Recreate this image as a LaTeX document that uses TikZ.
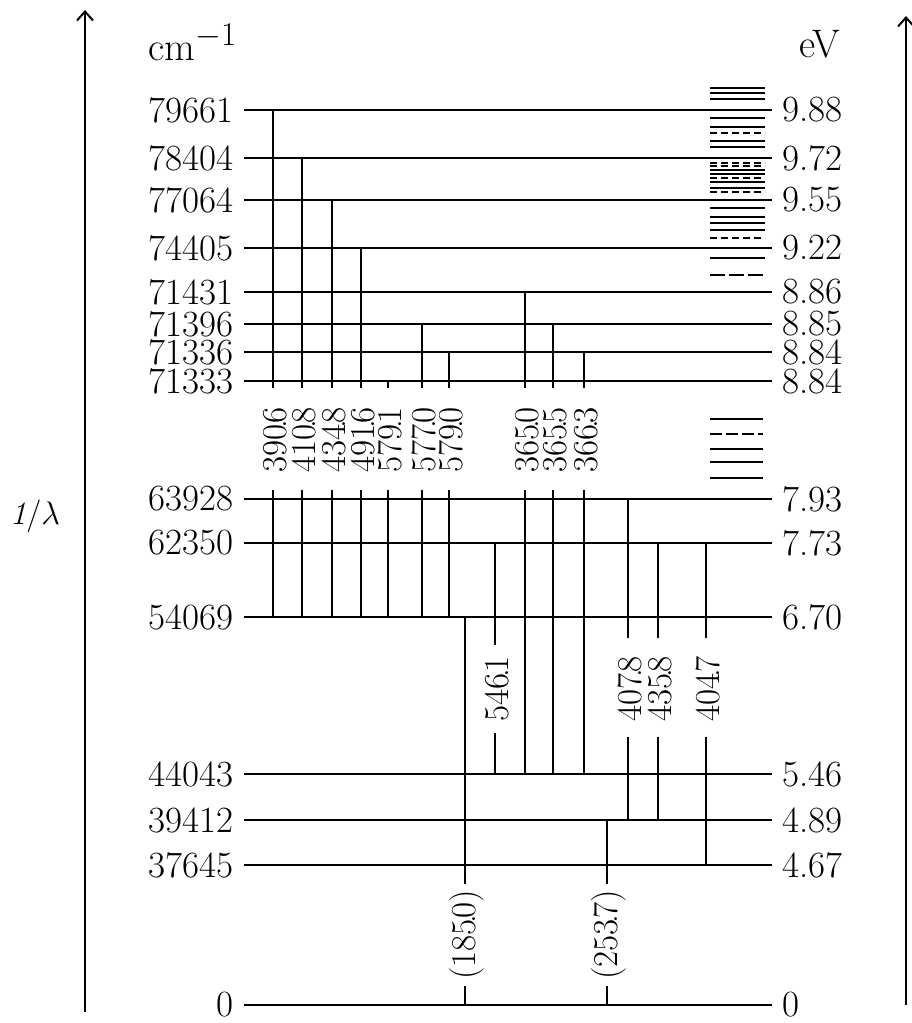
\documentclass[tikz,border=0pt]{standalone}
\usetikzlibrary{arrows.meta}
\newcommand\wdot{\hbox to 0pt{\hss.\hss}}
\begin{document}
\begin{tikzpicture}[x=1pt,y=-1pt,
  level/.style={line width=2.8pt},
  trans/.style={line width=2pt},
  ryd/.style={line width=1.3pt},
  axisline/.style={line width=2pt,-{Straight Barb[length=9pt,width=16pt,line width=2pt]}},
  lab/.style={font=\fontsize{37}{40}\selectfont, inner sep=0pt},
  unitlab/.style={font=\fontsize{24.88}{28}\selectfont, scale=1.6, inner sep=0pt},
  wl/.style={font=\fontsize{35}{38}\selectfont, rotate=90, inner sep=0pt},
]
\useasboundingbox (0,0) rectangle (911,1023);

% axes
\coordinate (axLb) at (85,1012);
\coordinate (axLt) at (85,10);
\coordinate (axRb) at (906,1005);
\coordinate (axRt) at (906,16);
\draw[axisline] (axLb) -- (axLt);
\draw[axisline] (axRb) -- (axRt);

\node[unitlab, anchor=base west] (ucm) at (148,60) {cm$^{-1}$};
\node[unitlab, anchor=base east] (uev) at (840,57) {eV};
\node[unitlab, scale=0.82, anchor=base] (inv) at (35,524) {\textit{1}/$\lambda$};

% levels
\foreach \y/\l/\r in {110/79661/9.88, 158/78404/9.72, 200/77064/9.55, 248/74405/9.22,
    292/71431/8.86, 324/71396/8.85, 352/71336/8.84, 381/71333/8.84,
    499/63928/7.93, 543/62350/7.73, 617/54069/6.70,
    774/44043/5.46, 820/39412/4.89, 865/37645/4.67, 1005/0/0} {
  \coordinate (lvA\l) at (244,\y);
  \coordinate (lvB\l) at (772,\y);
  \draw[level] (lvA\l) -- (lvB\l);
  \node[lab, anchor=east] (cm\l) at (234,\y) {\l};
  \node[lab, anchor=west] (ev\l) at (782,\y) {\r};
}

% Rydberg series (top)
\foreach \y in {88,93,99,118,127,141,147,170,174,182,188,208,217,223,230,258} {
  \draw[ryd] (710,\y) -- (765,\y);
}
\foreach \y in {133,163,166,178,192,238} {
  \draw[ryd, dash pattern=on 7pt off 4pt] (710,\y) -- (765,\y);
}
\draw[ryd, dash pattern=on 15pt off 4pt] (710,275) -- (765,275);
% Rydberg series (lower)
\foreach \y in {419,449,462,478} {
  \draw[ryd] (710,\y) -- (763,\y);
}
\draw[ryd, dash pattern=on 12pt off 4pt] (710,434) -- (763,434);

% transitions with label gaps: x / top / bottom / gap-top / gap-bottom / label-y / label / name
\foreach \x/\t/\b/\ga/\gb/\ly/\txt/\nm in {
   273/110/617/388/490/440/{390\wdot6}/a,
   302/158/617/388/490/440/{410\wdot8}/b,
   332/200/617/388/490/440/{434\wdot8}/c,
   361/248/617/388/490/440/{491\wdot6}/d,
   388/381/617/388/490/440/{579\wdot1}/e,
   422/324/617/388/490/440/{577\wdot0}/f,
   449/352/617/388/490/440/{579\wdot0}/g,
   525/292/774/388/490/440/{365\wdot0}/h,
   553/324/774/388/490/440/{365\wdot5}/i,
   584/352/774/388/490/440/{366\wdot3}/j,
   495/543/774/645/733/689/{546\wdot1}/n,
   628/499/820/638/737/689/{407\wdot8}/k,
   658/543/820/638/737/689/{435\wdot8}/l,
   706/543/865/638/737/689/{404\wdot7}/m,
   465/617/1005/884/986/935/{(185\wdot0)}/o,
   607/820/1005/884/986/935/{(253\wdot7)}/p} {
  \coordinate (tT\nm) at (\x,\t);
  \coordinate (tA\nm) at (\x,\ga);
  \coordinate (tB\nm) at (\x,\gb);
  \coordinate (tE\nm) at (\x,\b);
  \draw[trans] (tT\nm) -- (tA\nm);
  \draw[trans] (tB\nm) -- (tE\nm);
  \node[wl] (wl\nm) at (\x+2,\ly) {\txt};
}
\end{tikzpicture}
\end{document}
